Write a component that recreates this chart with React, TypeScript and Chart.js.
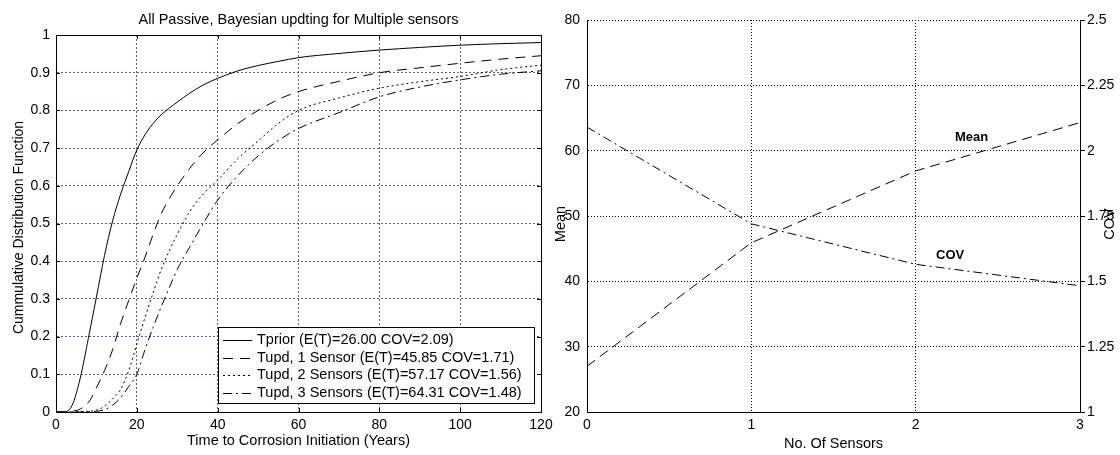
import React, { useEffect, useRef } from "react";
import { Chart, registerables } from "chart.js";

Chart.register(...registerables);

// ---------- Left panel data (CDF curves) ----------
const timeYears = [0, 2, 4, 6, 8, 10, 12, 14, 16, 18, 20, 22, 24, 26, 28, 30, 33, 36, 40, 45, 50, 55, 60, 70, 80, 90, 100, 110, 120];
const cdfPrior = [0, 0.0, 0.018, 0.09, 0.195, 0.305, 0.415, 0.507, 0.578, 0.638, 0.695, 0.735, 0.765, 0.788, 0.806, 0.822, 0.845, 0.865, 0.885, 0.905, 0.919, 0.93, 0.94, 0.951, 0.96, 0.967, 0.973, 0.977, 0.98];
const cdfOneSensor = [0, 0, 0.002, 0.008, 0.025, 0.064, 0.11, 0.165, 0.235, 0.296, 0.355, 0.41, 0.47, 0.525, 0.565, 0.6, 0.645, 0.683, 0.722, 0.765, 0.8, 0.829, 0.85, 0.877, 0.9, 0.913, 0.925, 0.936, 0.945];
const cdfTwoSensors = [0, 0, 0, 0.001, 0.002, 0.005, 0.015, 0.035, 0.06, 0.11, 0.18, 0.25, 0.315, 0.377, 0.427, 0.471, 0.53, 0.573, 0.615, 0.672, 0.719, 0.765, 0.8, 0.833, 0.859, 0.876, 0.89, 0.908, 0.92];
const cdfThreeSensors = [0, 0, 0, 0, 0.001, 0.002, 0.006, 0.018, 0.038, 0.068, 0.1, 0.165, 0.224, 0.278, 0.329, 0.378, 0.436, 0.492, 0.562, 0.627, 0.679, 0.72, 0.752, 0.794, 0.836, 0.862, 0.881, 0.896, 0.905];
const legendLabels = [
  "Tprior (E(T)=26.00 COV=2.09)",
  "Tupd, 1 Sensor (E(T)=45.85 COV=1.71)",
  "Tupd, 2 Sensors (E(T)=57.17 COV=1.56)",
  "Tupd, 3 Sensors (E(T)=64.31 COV=1.48)",
];

// ---------- Right panel data ----------
const sensorCounts = [0, 1, 2, 3];
const meanValues = [27.0, 45.9, 56.9, 64.3];
const covValues = [2.09, 1.72, 1.565, 1.483];

const leftTitle = "All Passive, Bayesian updting for Multiple sensors";
const leftXTitle = "Time to Corrosion Initiation (Years)";
const leftYTitle = "Cummulative Distribution Function";
const rightXTitle = "No. Of Sensors";
const rightYTitle = "Mean";
const rightY1Title = "COV";

const FAMILY = '"Liberation Sans", Arial, Helvetica, sans-serif';
const TICK_FAMILY = '"Liberation Sans", Arial, sans-serif';
const GRID_BLUE = "rgba(60,60,150,0.85)";
const TEXT_SIZE = 14.5;

const DASHES = [[], [10, 7], [2, 3], [9, 4, 2, 4]];
const cdfSeries = [cdfPrior, cdfOneSensor, cdfTwoSensors, cdfThreeSensors];

const leftDecor = {
  id: "leftDecor",
  afterDraw(chart: any) {
    const { ctx, chartArea: ca, scales } = chart;
    ctx.save();
    ctx.strokeStyle = "#000";
    ctx.lineWidth = 1;
    ctx.setLineDash([]);
    // top and right border
    ctx.beginPath();
    ctx.moveTo(Math.round(ca.left) + 0.5, Math.round(ca.top) + 0.5);
    ctx.lineTo(Math.round(ca.right) + 0.5, Math.round(ca.top) + 0.5);
    ctx.lineTo(Math.round(ca.right) + 0.5, Math.round(ca.bottom) + 0.5);
    ctx.stroke();
    // inward ticks
    ctx.beginPath();
    scales.x.ticks.forEach((t: any) => {
      const px = Math.round(scales.x.getPixelForValue(t.value)) + 0.5;
      ctx.moveTo(px, ca.bottom);
      ctx.lineTo(px, ca.bottom - 4);
      ctx.moveTo(px, ca.top);
      ctx.lineTo(px, ca.top + 4);
    });
    scales.y.ticks.forEach((t: any) => {
      const py = Math.round(scales.y.getPixelForValue(t.value)) + 0.5;
      ctx.moveTo(ca.left, py);
      ctx.lineTo(ca.left + 4, py);
      ctx.moveTo(ca.right, py);
      ctx.lineTo(ca.right - 4, py);
    });
    ctx.stroke();

    // titles
    ctx.fillStyle = "#000";
    ctx.font = `${TEXT_SIZE}px ${FAMILY}`;
    ctx.textAlign = "center";
    ctx.textBaseline = "middle";
    ctx.fillText(leftTitle, (ca.left + ca.right) / 2, 20);
    ctx.fillText(leftXTitle, (ca.left + ca.right) / 2, 441);
    ctx.save();
    ctx.translate(19, (ca.top + ca.bottom) / 2 + 4);
    ctx.rotate(-Math.PI / 2);
    ctx.font = `14px ${FAMILY}`;
    ctx.fillText(leftYTitle, 0, 0);
    ctx.restore();

    // legend box
    const bx = 218.5, by = 327.5, bw = 316, bh = 76;
    ctx.fillStyle = "#fff";
    ctx.fillRect(bx, by, bw, bh);
    ctx.strokeStyle = "#000";
    ctx.strokeRect(bx, by, bw, bh);
    ctx.font = `${TEXT_SIZE}px ${FAMILY}`;
    ctx.textAlign = "left";
    ctx.fillStyle = "#000";
    legendLabels.forEach((label, i) => {
      const cy = 340 + i * 17.5;
      ctx.beginPath();
      ctx.setLineDash(DASHES[i]);
      ctx.moveTo(223, Math.round(cy) + 0.5);
      ctx.lineTo(252, Math.round(cy) + 0.5);
      ctx.stroke();
      ctx.setLineDash([]);
      ctx.fillText(label, 257, cy);
    });
    ctx.restore();
  },
};

const rightDecor = {
  id: "rightDecor",
  afterDraw(chart: any) {
    const { ctx, chartArea: ca, scales } = chart;
    ctx.save();
    ctx.fillStyle = "#000";
    ctx.font = `${TEXT_SIZE}px ${FAMILY}`;
    ctx.textAlign = "center";
    ctx.textBaseline = "middle";
    ctx.fillText(rightXTitle, (ca.left + ca.right) / 2, 444);
    const midY = (ca.top + ca.bottom) / 2;
    ctx.save();
    ctx.translate(16, midY + 8);
    ctx.rotate(-Math.PI / 2);
    ctx.fillText(rightYTitle, 0, 0);
    ctx.restore();
    ctx.save();
    ctx.translate(565, midY + 8);
    ctx.rotate(-Math.PI / 2);
    ctx.fillText(rightY1Title, 0, 0);
    ctx.restore();
    // annotations
    ctx.font = `bold 13px ${FAMILY}`;
    ctx.fillText("Mean", scales.x.getPixelForValue(2.34), scales.y.getPixelForValue(62));
    ctx.fillText("COV", scales.x.getPixelForValue(2.21), scales.y.getPixelForValue(43.9));
    ctx.restore();
  },
};

function leftConfig(): any {
  return {
    type: "line",
    data: {
      datasets: cdfSeries.map((series, i) => ({
        label: legendLabels[i],
        data: timeYears.map((t, k) => ({ x: t, y: series[k] })),
        borderColor: "#000",
        borderWidth: 1,
        borderDash: DASHES[i],
        pointRadius: 0,
        cubicInterpolationMode: "monotone",
        fill: false,
      })),
    },
    options: {
      animation: false,
      responsive: false,
      devicePixelRatio: 1,
      layout: { padding: { left: 0, top: 35, right: 19, bottom: 0 } },
      plugins: { legend: { display: false }, tooltip: { enabled: false }, title: { display: false } },
      scales: {
        x: {
          type: "linear",
          min: 0,
          max: 120,
          ticks: { stepSize: 20, color: "#000", font: { family: TICK_FAMILY, size: 14 }, padding: 5, maxRotation: 0 },
          grid: {
            drawTicks: false,
            lineWidth: 1,
            color: (c: any) => (c.tick && c.tick.value > 0 && c.tick.value < 120 ? GRID_BLUE : "rgba(0,0,0,0)"),
          },
          border: { display: true, color: "#000", width: 1, dash: [2, 2] },
          afterFit: (s: any) => {
            s.height = 43;
          },
        },
        y: {
          type: "linear",
          min: 0,
          max: 1,
          ticks: {
            stepSize: 0.1,
            color: "#000",
            font: { family: TICK_FAMILY, size: 14 },
            padding: 6,
            callback: (v: any) => String(Number(Number(v).toFixed(1))),
          },
          grid: {
            drawTicks: false,
            lineWidth: 1,
            color: (c: any) => (c.tick && c.tick.value > 0.001 && c.tick.value < 0.999 ? GRID_BLUE : "rgba(0,0,0,0)"),
          },
          border: { display: true, color: "#000", width: 1, dash: [2, 2] },
          afterFit: (s: any) => {
            s.width = 56;
          },
        },
      },
    },
    plugins: [leftDecor],
  };
}

function rightConfig(): any {
  return {
    type: "line",
    data: {
      datasets: [
        {
          label: "Mean",
          data: sensorCounts.map((n, i) => ({ x: n, y: meanValues[i] })),
          yAxisID: "y",
          borderColor: "#000",
          borderWidth: 1,
          borderDash: [10, 6],
          pointRadius: 0,
          tension: 0,
        },
        {
          label: "COV",
          data: sensorCounts.map((n, i) => ({ x: n, y: covValues[i] })),
          yAxisID: "y1",
          borderColor: "#000",
          borderWidth: 1,
          borderDash: [9, 4, 2, 4],
          pointRadius: 0,
          tension: 0,
        },
      ],
    },
    options: {
      animation: false,
      responsive: false,
      devicePixelRatio: 1,
      layout: { padding: { left: 0, top: 20, right: 0, bottom: 0 } },
      plugins: { legend: { display: false }, tooltip: { enabled: false }, title: { display: false } },
      scales: {
        x: {
          type: "linear",
          min: 0,
          max: 3,
          ticks: { stepSize: 1, color: "#000", font: { family: TICK_FAMILY, size: 14 }, padding: 5, maxRotation: 0 },
          grid: {
            drawTicks: false,
            color: (c: any) => (c.tick && c.tick.value > 0 && c.tick.value < 3 ? "#000" : "rgba(0,0,0,0)"),
          },
          border: { display: true, color: "#000", width: 1, dash: [1, 2] },
          afterFit: (s: any) => {
            s.height = 43;
          },
        },
        y: {
          type: "linear",
          position: "left",
          min: 20,
          max: 80,
          ticks: { stepSize: 10, color: "#000", font: { family: TICK_FAMILY, size: 14 }, padding: 7 },
          grid: {
            drawTicks: false,
            color: (c: any) => (c.tick && c.tick.value > 20 ? "#000" : "rgba(0,0,0,0)"),
          },
          border: { display: true, color: "#000", width: 1, dash: [1, 2] },
          afterFit: (s: any) => {
            s.width = 42;
          },
        },
        y1: {
          type: "linear",
          position: "right",
          min: 1,
          max: 2.5,
          ticks: {
            stepSize: 0.25,
            color: "#000",
            font: { family: TICK_FAMILY, size: 14 },
            padding: 2,
            callback: (v: any) => String(Number(Number(v).toFixed(2))),
          },
          grid: { drawOnChartArea: false, drawTicks: true, tickLength: 5, color: "#000", tickColor: "#000" },
          border: { display: true, color: "#000", width: 1 },
          afterFit: (s: any) => {
            s.width = 40;
          },
        },
      },
    },
    plugins: [rightDecor],
  };
}

export default function App() {
  const leftRef = useRef<HTMLCanvasElement>(null);
  const rightRef = useRef<HTMLCanvasElement>(null);
  useEffect(() => {
    const c1 = new Chart(leftRef.current as HTMLCanvasElement, leftConfig());
    const c2 = new Chart(rightRef.current as HTMLCanvasElement, rightConfig());
    return () => {
      c1.destroy();
      c2.destroy();
    };
  }, []);
  return (
    <div style={{ position: "fixed", left: 0, top: 0, width: 1120, height: 455, background: "#fff", overflow: "hidden" }}>
      <canvas ref={leftRef} width={560} height={455} style={{ position: "absolute", left: 0, top: 0, width: 560, height: 455 }} />
      <canvas ref={rightRef} width={575} height={455} style={{ position: "absolute", left: 545, top: 0, width: 575, height: 455 }} />
    </div>
  );
}
